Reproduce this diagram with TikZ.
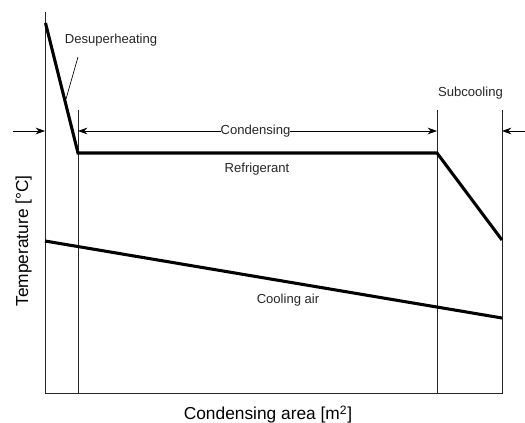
\documentclass[tikz,border=0pt]{standalone}
\usepackage{fontspec}
\setmainfont{Liberation Sans}
\usetikzlibrary{arrows.meta}
\begin{document}
\begin{tikzpicture}[x=0.75pt,y=-0.75pt,
  thin line/.style={line width=0.6pt, draw=black!85},
  thick line/.style={line width=2.3pt, line join=miter},
  dim arrow/.style={line width=0.6pt, -{Stealth[length=7pt,width=5pt]}},
  small label/.style={font=\fontsize{9.8}{11}\selectfont, inner sep=1pt, text=black!85},
  axis label/.style={font=\fontsize{13}{15}\selectfont, inner sep=1pt}]
\useasboundingbox (0,0) rectangle (525,423);
% frame coordinates
\coordinate (axtop) at (45,12);
\coordinate (origin) at (45,393);
\coordinate (axend) at (502,393);
\coordinate (rtop) at (502,110);
\coordinate (c1top) at (78,110);
\coordinate (c1bot) at (78,393);
\coordinate (c2top) at (437,110);
\coordinate (c2bot) at (437,393);
% axes
\draw[thin line] (axtop) -- (origin) -- (axend) -- (rtop);
\draw[thin line] (c1top) -- (c1bot);
\draw[thin line] (c2top) -- (c2bot);
% refrigerant
\coordinate (r0) at (45.5,23);
\coordinate (r1) at (78,153);
\coordinate (r2) at (437,153);
\coordinate (r3) at (502,240);
\draw[thick line] (r0) -- (r1) -- (r2) -- (r3);
% cooling air
\coordinate (a0) at (45,241);
\coordinate (a1) at (502,318);
\draw[thick line] (a0) -- (a1);
% dimension arrows
\coordinate (la) at (13,131);
\coordinate (lb) at (45,131);
\coordinate (ra) at (525,131);
\coordinate (rb) at (502,131);
\coordinate (ca) at (78,131);
\coordinate (cb) at (437,131);
\draw[dim arrow] (la) -- (lb);
\draw[dim arrow] (ra) -- (rb);
\draw[dim arrow, {Stealth[length=7pt,width=5pt]}-{Stealth[length=7pt,width=5pt]}] (ca) -- (cb);
\node[small label, fill=white, inner xsep=0pt, anchor=base] (cond) at (255.5,135) {Condensing};
% labels
\node[small label, anchor=base] (desup) at (111,44) {Desuperheating};
\coordinate (dl1) at (78,57);
\coordinate (dl2) at (66,99);
\draw[line width=0.5pt] (dl1) -- (dl2);
\node[small label, anchor=base] (sub) at (470.5,97) {Subcooling};
\node[small label, anchor=base] (refr) at (257,173) {Refrigerant};
\node[small label, anchor=base] (air) at (288,304) {Cooling air};
\node[axis label, anchor=base] (xlab) at (268,420) {Condensing area [m\textsuperscript{2}]};
\node[axis label, rotate=90, anchor=base] (ylab) at (28,241) {Temperature [°C]};
\end{tikzpicture}
\end{document}
